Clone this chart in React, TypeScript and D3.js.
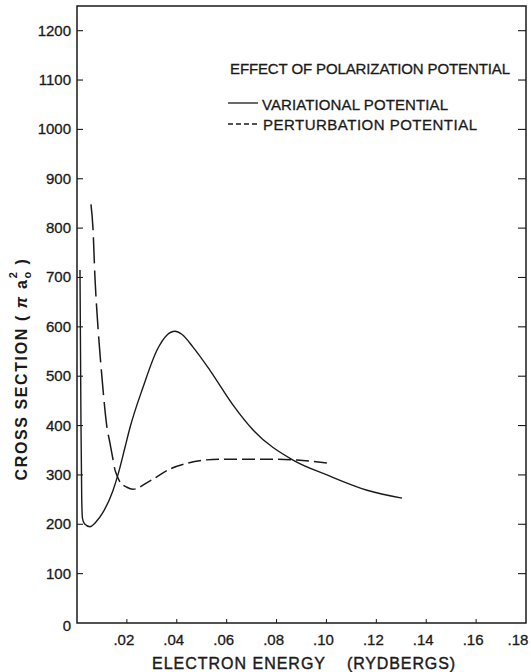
import * as d3 from "d3";

// axis ticks
const energyTicks = [0.02, 0.04, 0.06, 0.08, 0.1, 0.12, 0.14, 0.16, 0.18];
const energyTickLabels = [".02", ".04", ".06", ".08", ".10", ".12", ".14", ".16", ".18"];
const sectionTicks = [0, 100, 200, 300, 400, 500, 600, 700, 800, 900, 1000, 1100, 1200];

// variational potential (solid)
const variationalEnergy = [
  0.0012, 0.0016, 0.0019, 0.0022, 0.003, 0.0052, 0.0075, 0.0104, 0.0144, 0.0164,
  0.0192, 0.0212, 0.0265, 0.0321, 0.036, 0.0393, 0.042, 0.0465, 0.0533, 0.0625,
  0.0706, 0.0866, 0.1002, 0.1163, 0.1303,
];
const variationalSection = [
  715, 400, 250, 212, 201, 195, 204, 224, 268, 300,
  355, 395, 478, 553, 583, 591, 585, 559, 512, 442,
  391, 330, 300, 269, 253,
];

// perturbation potential (dashed)
const perturbationEnergy = [
  0.0056, 0.0064, 0.0072, 0.0084, 0.01, 0.012, 0.0132, 0.0152, 0.0172, 0.02,
  0.0224, 0.0293, 0.0373, 0.0445, 0.0573, 0.0762, 0.0882, 0.1006,
];
const perturbationSection = [
  848, 800, 700, 600, 498, 397, 365, 310, 286, 275,
  271, 288, 312, 324, 332, 332, 330, 324,
];
const steepEnd = 7; // index where the long dashes stop

const legendTitle = "EFFECT OF POLARIZATION POTENTIAL";
const legendItems = ["VARIATIONAL POTENTIAL", "PERTURBATION POTENTIAL"];

export default function App() {
  const width = 531;
  const height = 672;
  const left = 77, right = 526, top = 6, bottom = 623;

  const x = d3.scaleLinear().domain([0, 0.18]).range([left, right]);
  const y = d3.scaleLinear().domain([0, 1250]).range([bottom, top]);

  const line = d3
    .line<[number, number]>()
    .x((d) => x(d[0]))
    .y((d) => y(d[1]))
    .curve(d3.curveMonotoneX);

  const solid = variationalEnergy.map((e, i) => [e, variationalSection[i]] as [number, number]);
  const dashed = perturbationEnergy.map((e, i) => [e, perturbationSection[i]] as [number, number]);
  const dashedSteep = dashed.slice(0, steepEnd + 1);
  const dashedFlat = dashed.slice(steepEnd);

  const ink = "#1a1a1a";
  const font = "'Liberation Sans', Arial, sans-serif";

  return (
    <svg
      width={width}
      height={height}
      style={{ position: "absolute", left: 0, top: 0, background: "#fff" }}
      fontFamily={font}
    >
      <rect width={width} height={height} fill="#fff" />

      {/* frame */}
      <rect x={left} y={top} width={right - left} height={bottom - top} fill="none" stroke={ink} strokeWidth={1.5} />

      {/* y ticks */}
      {sectionTicks.map((t) => (
        <g key={t}>
          {t > 0 && (
            <>
              <line x1={left} x2={left + 6} y1={y(t)} y2={y(t)} stroke={ink} strokeWidth={1.1} />
              <line x1={right - 8} x2={right} y1={y(t)} y2={y(t)} stroke={ink} strokeWidth={1.1} />
            </>
          )}
          <text x={left - 6} y={y(t) + (t === 0 ? 8 : 5)} textAnchor="end" fontSize={15} fill={ink} stroke={ink} strokeWidth={0.3}>
            {t}
          </text>
        </g>
      ))}

      {/* x ticks */}
      {energyTicks.map((t, i) => (
        <g key={t}>
          {t < 0.18 && <line x1={x(t)} x2={x(t)} y1={bottom} y2={bottom - 4} stroke={ink} strokeWidth={1} />}
          <text
            x={t < 0.18 ? x(t) - 3 : x(t) - 8}
            y={645}
            textAnchor="middle"
            fontSize={15}
            fill={ink}
            stroke={ink}
            strokeWidth={0.3}
          >
            {energyTickLabels[i]}
          </text>
        </g>
      ))}

      {/* axis titles */}
      <text x={152} y={669} fontSize={16} fill={ink} stroke={ink} strokeWidth={0.4} textLength={173} lengthAdjust="spacing">
        ELECTRON ENERGY
      </text>
      <text x={347} y={669} fontSize={16} fill={ink} stroke={ink} strokeWidth={0.4} textLength={108} lengthAdjust="spacing">
        (RYDBERGS)
      </text>
      <text
        transform="translate(27,369) rotate(-90)"
        textAnchor="middle"
        fontSize={16}
        fontWeight="bold"
        letterSpacing={1.6}
        fill={ink}
      >
        CROSS SECTION ( <tspan fontStyle="italic">π</tspan> a
        <tspan dy={4} fontSize={11}>o</tspan>
        <tspan dx={-8} dy={-14} fontSize={11}>2</tspan>
        <tspan dy={10}> )</tspan>
      </text>

      {/* curves */}
      <path d={line(solid) ?? ""} fill="none" stroke={ink} strokeWidth={1.4} />
      <path d={line(dashedSteep) ?? ""} fill="none" stroke={ink} strokeWidth={1.5} strokeDasharray="26,7" />
      <path d={line(dashedFlat) ?? ""} fill="none" stroke={ink} strokeWidth={1.5} strokeDasharray="13,5" />

      {/* legend */}
      <text x={230} y={74} fontSize={15} fill={ink} stroke={ink} strokeWidth={0.3} textLength={280} lengthAdjust="spacing">
        {legendTitle}
      </text>
      <line x1={228} x2={258} y1={103} y2={103} stroke={ink} strokeWidth={1.3} />
      <text x={262} y={110} fontSize={15} fill={ink} stroke={ink} strokeWidth={0.3} textLength={186} lengthAdjust="spacing">
        {legendItems[0]}
      </text>
      <line x1={228} x2={260} y1={124} y2={124} stroke={ink} strokeWidth={1.3} strokeDasharray="5,3" />
      <text x={263} y={130} fontSize={15} fill={ink} stroke={ink} strokeWidth={0.3} textLength={214} lengthAdjust="spacing">
        {legendItems[1]}
      </text>
    </svg>
  );
}
